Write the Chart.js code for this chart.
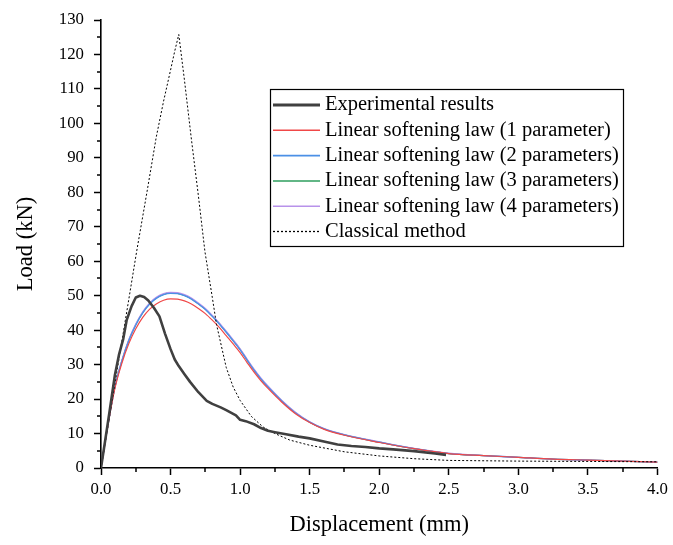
<!DOCTYPE html>
<html>
<head>
<meta charset="utf-8">
<script src="https://cdn.jsdelivr.net/npm/chart.js@4/dist/chart.umd.min.js"></script>
<style>
  html, body { margin: 0; padding: 0; background: #ffffff; }
  #wrap { width: 673px; height: 545px; }
</style>
</head>
<body>
<div id="wrap"><canvas id="c" width="673" height="545"></canvas></div>
<script>
// ---------- data ----------
const seriesNames = [
  "Experimental results",
  "Linear softening law (1 parameter)",
  "Linear softening law (2 parameters)",
  "Linear softening law (3 parameters)",
  "Linear softening law (4 parameters)",
  "Classical method"
];

const expX = [0,0.03,0.06,0.1,0.13,0.16,0.185,0.22,0.25,0.28,0.31,0.34,0.38,0.42,0.46,0.5,0.53,0.56,0.6,0.64,0.7,0.76,0.8,0.86,0.9,0.97,1.0,1.04,1.1,1.15,1.2,1.25,1.33,1.42,1.5,1.61,1.7,1.8,1.9,2.0,2.1,2.25,2.4,2.48];
const expY = [0,8,16,27,33,37.5,43,47,49.5,50,49.6,48.6,46.5,44,39,34.5,31.5,29.5,27.2,25,22,19.5,18.6,17.6,16.8,15.3,14,13.6,12.7,11.6,10.8,10.4,9.8,9.1,8.6,7.6,6.8,6.4,6.1,5.7,5.4,4.9,4.2,3.8];

const fitX = [0,0.05,0.1,0.15,0.2,0.25,0.3,0.35,0.4,0.45,0.5,0.55,0.6,0.65,0.7,0.75,0.8,0.85,0.9,0.95,1.0,1.05,1.1,1.15,1.2,1.3,1.4,1.5,1.6,1.75,2.0,2.25,2.5,2.75,3.0,3.25,3.5,3.75,4.0];
const fit1 = [0,12.4,23.1,30.4,36.1,40.4,43.7,46.1,47.7,48.7,49.1,49.0,48.5,47.6,46.3,44.8,42.9,40.8,38.4,36.0,33.5,30.6,27.8,25.3,23.1,19.1,15.7,13.2,11.3,9.5,7.4,5.6,4.2,3.6,3.1,2.6,2.3,2.0,1.7];
const fit2 = [0,12.5,23.5,31,37,41.5,45,47.6,49.3,50.3,50.7,50.6,50,49,47.6,46,44,41.8,39.4,36.9,34.3,31.3,28.4,25.8,23.5,19.4,15.9,13.3,11.4,9.6,7.5,5.6,4.2,3.6,3.1,2.6,2.3,2.0,1.7];
const fit3 = [0,12.5,23.5,31.1,37.1,41.6,45.1,47.7,49.4,50.4,50.8,50.7,50.1,49.1,47.7,46.1,44.1,41.9,39.5,37.0,34.4,31.4,28.5,25.9,23.6,19.5,16.0,13.3,11.4,9.6,7.5,5.6,4.2,3.6,3.1,2.6,2.3,2.0,1.7];
const fit4 = [0,12.5,23.6,31.2,37.3,41.8,45.3,47.9,49.6,50.6,51.0,50.9,50.3,49.3,47.9,46.3,44.3,42.1,39.7,37.2,34.6,31.6,28.7,26.1,23.8,19.6,16.1,13.4,11.5,9.7,7.6,5.7,4.3,3.6,3.1,2.6,2.3,2.0,1.7];

const clsX = [0,0.1,0.2,0.256,0.33,0.397,0.45,0.5,0.53,0.559,0.6,0.648,0.7,0.747,0.8,0.83,0.9,0.95,1.0,1.08,1.165,1.25,1.357,1.5,1.75,2.0,2.25,2.5,3.0,3.5,4.0];
const clsY = [0,24.5,49,62.8,80,96,106.5,115.5,121,125.8,112.5,96,79,62.8,49.5,41.7,29.2,23.5,19.6,15,11.9,10,8.1,6.6,4.7,3.5,2.7,2.2,2.0,1.9,1.8];

const xTickValues = [0,0.5,1.0,1.5,2.0,2.5,3.0,3.5,4.0];
const xMinorValues = [0.25,0.75,1.25,1.75,2.25,2.75,3.25,3.75];
const yMinorValues = [5,15,25,35,45,55,65,75,85,95,105,115,125];
const xTitle = "Displacement (mm)";
const yTitle = "Load (kN)";

// ---------- helpers ----------
function pts(xs, ys) { return xs.map((x, i) => ({ x: x, y: ys[i] })); }
const SERIF = '"Liberation Serif", "Times New Roman", "DejaVu Serif", serif';

const colors = ["#404040", "#f04848", "#4b90e6", "#2e9e5e", "#b892ea", "#000000"];
const widths = [2.6, 1.2, 1.3, 1.2, 1.3, 1];

const datasets = [
  { label: seriesNames[0], data: pts(expX, expY), borderColor: colors[0], borderWidth: widths[0], order: 0, tension: 0 },
  { label: seriesNames[1], data: pts(fitX, fit1), borderColor: colors[1], borderWidth: widths[1], order: 2, cubicInterpolationMode: 'monotone' },
  { label: seriesNames[2], data: pts(fitX, fit2), borderColor: colors[2], borderWidth: widths[2], order: 3, cubicInterpolationMode: 'monotone' },
  { label: seriesNames[3], data: pts(fitX, fit3), borderColor: colors[3], borderWidth: widths[3], order: 5, cubicInterpolationMode: 'monotone' },
  { label: seriesNames[4], data: pts(fitX, fit4), borderColor: colors[4], borderWidth: widths[4], order: 4, cubicInterpolationMode: 'monotone' },
  { label: seriesNames[5], data: pts(clsX, clsY), borderColor: colors[5], borderWidth: widths[5], borderDash: [2, 2], order: 1, tension: 0 }
];
datasets.forEach(d => { d.showLine = true; d.pointRadius = 0; d.fill = false; d.borderJoinStyle = 'round'; });

// minor ticks drawn through the scales
const minorTicks = {
  id: 'minorTicks',
  afterDraw(chart) {
    const ctx = chart.ctx, xs = chart.scales.x, ys = chart.scales.y;
    const area = chart.chartArea;
    ctx.save();
    ctx.strokeStyle = '#000';
    ctx.lineWidth = 1.5;
    ctx.beginPath();
    xMinorValues.forEach(v => {
      const px = Math.round(xs.getPixelForValue(v));
      ctx.moveTo(px, area.bottom); ctx.lineTo(px, area.bottom + 4);
    });
    yMinorValues.forEach(v => {
      const py = Math.round(ys.getPixelForValue(v));
      ctx.moveTo(area.left - 4, py); ctx.lineTo(area.left, py);
    });
    ctx.stroke();
    ctx.restore();
  }
};

// boxed legend inside the plot
const boxLegend = {
  id: 'boxLegend',
  afterDraw(chart) {
    const ctx = chart.ctx;
    const bx = 270, by = 89, bw = 353, bh = 157;
    const row0 = 105, gap = 25.3, s0 = 273, s1 = 320, tx = 325;
    ctx.save();
    ctx.fillStyle = '#fff';
    ctx.fillRect(bx, by, bw, bh);
    ctx.strokeStyle = '#000';
    ctx.lineWidth = 1.2;
    ctx.strokeRect(bx + 0.5, by + 0.5, bw, bh);
    ctx.font = '20.5px ' + SERIF;
    ctx.textBaseline = 'middle';
    ctx.textAlign = 'left';
    chart.data.datasets.forEach((d, i) => {
      const y = row0 + i * gap;
      ctx.beginPath();
      ctx.strokeStyle = d.borderColor;
      ctx.lineWidth = i === 0 ? 3 : (d.borderWidth + 0.3);
      ctx.setLineDash(d.borderDash || []);
      ctx.moveTo(s0, y); ctx.lineTo(s1, y);
      ctx.stroke();
      ctx.setLineDash([]);
      ctx.fillStyle = '#000';
      ctx.fillText(d.label, tx, y);
    });
    ctx.restore();
  }
};

new Chart(document.getElementById('c'), {
  type: 'scatter',
  data: { datasets: datasets },
  options: {
    responsive: false,
    animation: false,
    devicePixelRatio: 1,
    layout: { padding: { left: 0, right: 12, top: 17, bottom: 0 } },
    plugins: { legend: { display: false }, tooltip: { enabled: false } },
    scales: {
      x: {
        type: 'linear', min: 0, max: 4,
        afterBuildTicks(scale) { scale.ticks = xTickValues.map(v => ({ value: v })); },
        afterFit(scale) { scale.height = 77; },
        ticks: {
          color: '#000', padding: 5,
          font: { family: SERIF, size: 16.8 },
          callback: v => Number(v).toFixed(1),
          maxRotation: 0, autoSkip: false
        },
        grid: { drawOnChartArea: false, drawTicks: true, tickLength: 7, tickWidth: 1.5, tickColor: '#000' },
        border: { display: true, color: '#000', width: 1.6 },
        title: { display: true, text: xTitle, color: '#000', font: { family: SERIF, size: 22.5 }, padding: { top: 0, bottom: 6 } }
      },
      y: {
        type: 'linear', min: 0, max: 130,
        afterFit(scale) { scale.width = 101; },
        ticks: {
          color: '#000', padding: 10, stepSize: 10,
          font: { family: SERIF, size: 16.8 },
          autoSkip: false
        },
        grid: { drawOnChartArea: false, drawTicks: true, tickLength: 7, tickWidth: 1.5, tickColor: '#000' },
        border: { display: true, color: '#000', width: 1.6 },
        title: { display: true, text: yTitle, color: '#000', font: { family: SERIF, size: 22.5 }, padding: { top: 13, bottom: 0 } }
      }
    }
  },
  plugins: [minorTicks, boxLegend]
});
</script>
</body>
</html>
